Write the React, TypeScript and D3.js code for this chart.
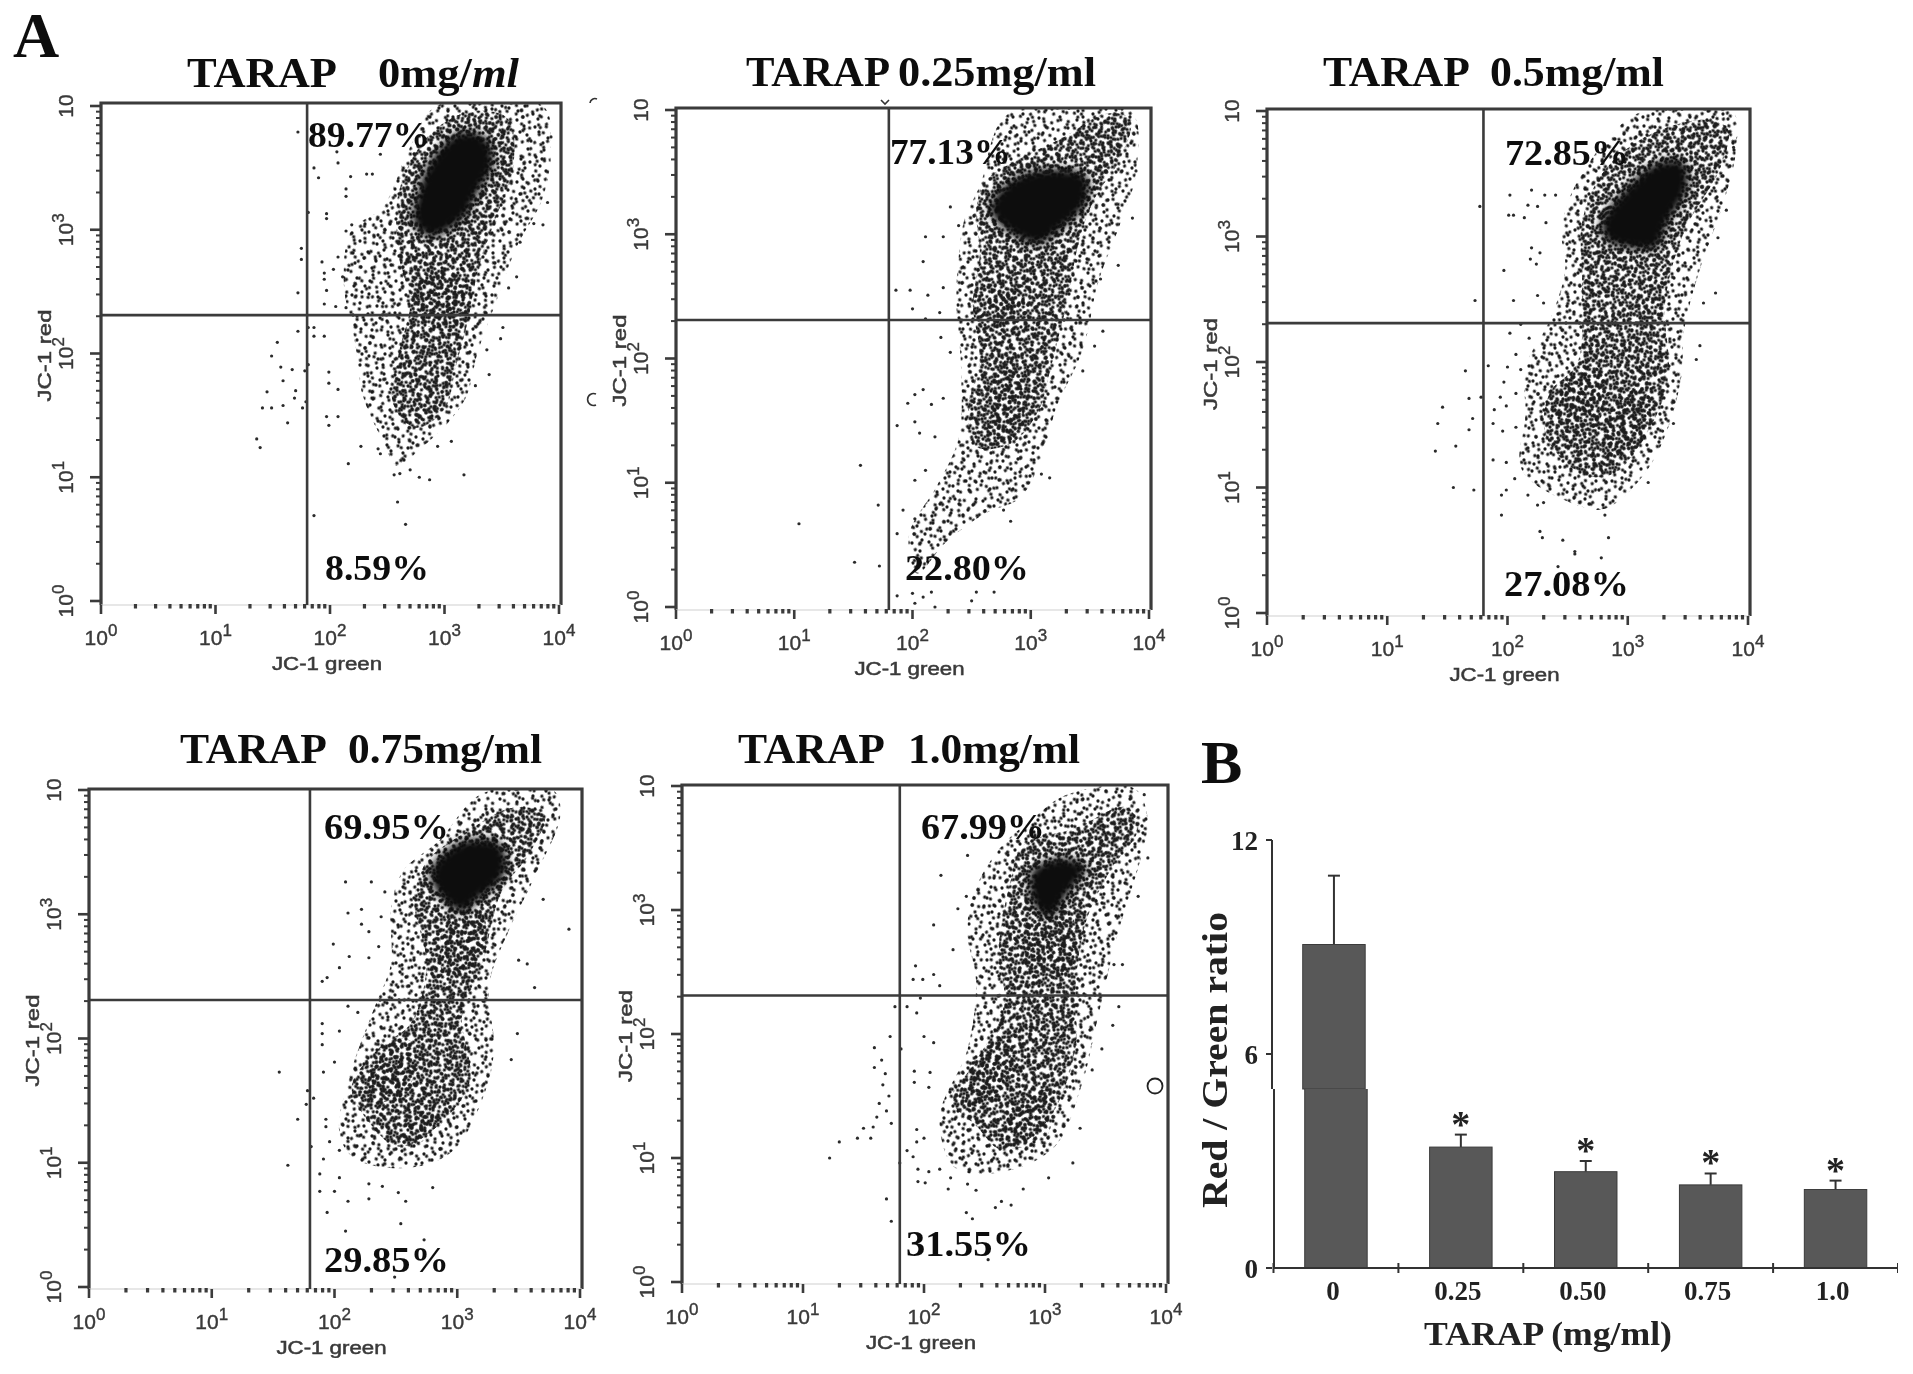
import React from "react";
import * as d3 from "d3";

// Values are log10 decades: [JC-1 green, JC-1 red].
// Sparse outliers are individual hand-read events. The dense clouds cannot be read event by event,
// so they are outlined as density regions (sparse / dense / knots / core) and filled with a texture.
type P = [number, number];

const gate: P = [1.8, 2.31];
const decades = [0, 1, 2, 3, 4];

const p1Sparse: P[] = [[2.46,3.18],[2.69,3.65],[2.93,4.0],[3.86,4.0],[3.93,3.68],[3.86,3.26],[3.63,2.86],[3.46,2.44],[3.29,2.01],[3.19,1.65],[3.03,1.44],[2.79,1.23],[2.59,1.09],[2.46,1.30],[2.29,1.65],[2.22,2.08],[2.12,2.58],[2.19,3.0]];
const p1Dense: P[] = [[2.6,3.3],[2.85,3.75],[3.2,3.95],[3.55,3.9],[3.6,3.5],[3.45,3.1],[3.3,2.7],[3.2,2.25],[3.1,1.9],[3.0,1.55],[2.75,1.4],[2.55,1.6],[2.6,2.0],[2.7,2.4],[2.6,2.8]];
const p1Knots: P[][] = [[[2.75,2.6],[3.1,2.65],[3.2,2.3],[2.95,2.2],[2.75,2.3]]];
const p1Core: P[] = [[2.76,3.29],[2.89,3.58],[3.13,3.79],[3.36,3.75],[3.43,3.54],[3.29,3.29],[3.19,3.11],[2.89,2.94],[2.73,3.04]];
const p1Dots: P[] = [[1.72,3.79],[1.86,3.5],[1.9,3.42],[2.06,3.63],[2.07,3.54],[2.18,3.43],[2.14,3.33],[2.14,3.27],[2.32,3.45],[2.37,3.45],[2.44,3.61],[1.97,3.13],[1.97,3.09],[1.81,3.14],[1.75,2.85],[1.75,2.76],[1.72,2.49],[1.93,2.74],[1.95,2.65],[1.95,2.6],[1.97,2.51],[1.95,2.4],[2.05,2.38],[2.07,2.78],[2.03,2.68],[2.14,2.99],[2.19,3.04],[2.11,2.62],[2.14,2.37],[1.72,2.18],[1.81,2.21],[1.86,2.21],[1.86,2.14],[1.95,2.14],[1.54,2.09],[1.49,1.98],[1.57,1.89],[1.67,1.87],[1.59,1.78],[1.78,1.86],[1.81,1.91],[1.45,1.69],[1.7,1.7],[1.69,1.64],[1.41,1.56],[1.49,1.56],[1.59,1.58],[1.76,1.56],[1.79,1.61],[1.63,1.44],[1.36,1.31],[1.39,1.24],[1.99,1.85],[1.99,1.76],[2.07,1.71],[1.97,1.49],[2.07,1.49],[1.99,1.42],[2.16,1.11],[2.59,0.8],[2.66,0.62],[1.86,0.69],[3.17,1.02],[2.87,0.98],[3.06,1.29],[2.56,1.02],[2.78,1.0],[2.7,1.06],[2.61,1.03],[2.44,1.19],[2.42,1.23],[2.27,1.25],[2.94,1.25],[3.39,1.83],[3.27,1.74],[3.51,2.21],[3.49,2.12],[3.37,2.03],[3.56,2.53],[3.63,2.62],[3.66,2.9],[3.86,3.04],[3.78,3.05],[3.9,3.22],[3.93,3.75]];

const p2Sparse: P[] = [[2.44,3.12],[2.57,3.39],[2.81,3.97],[3.84,4],[3.89,3.49],[3.77,3.12],[3.57,2.61],[3.44,2.07],[3.21,1.59],[3.11,1.25],[2.91,0.88],[2.61,0.75],[2.27,0.51],[2.04,0.27],[1.97,0.58],[2.21,0.98],[2.39,1.36],[2.41,1.93],[2.37,2.47],[2.39,2.81]];
const p2Dense: P[] = [[2.54,3.19],[2.61,3.42],[2.87,3.59],[3.24,3.76],[3.64,3.97],[3.84,3.93],[3.77,3.63],[3.54,3.29],[3.41,2.95],[3.31,2.47],[3.17,1.93],[3.07,1.59],[2.84,1.32],[2.54,1.29],[2.47,1.59],[2.57,2.0],[2.51,2.44],[2.57,2.85]];
const p2Knots: P[][] = [[[2.65,1.6],[2.8,2.0],[2.95,1.7],[2.85,1.35],[2.65,1.35]],[[2.65,2.5],[2.9,2.55],[2.95,2.3],[2.7,2.25]]];
const p2Core: P[] = [[2.66,3.25],[2.87,3.46],[3.21,3.53],[3.47,3.47],[3.47,3.25],[3.27,3.05],[3.07,2.92],[2.87,2.98],[2.67,3.15]];
const p2Dots: P[] = [[1.86,2.55],[1.98,2.55],[2.13,2.51],[2.26,2.57],[2,2.4],[2.11,2.32],[2.23,2.37],[2.09,2.78],[2.26,2.98],[2.11,2.98],[2.32,3.22],[2.39,3.07],[2.24,2.17],[2.32,2.05],[2.02,1.71],[2.09,1.75],[1.96,1.64],[1.87,1.46],[2.02,1.49],[2.06,1.4],[2.16,1.63],[2.19,1.37],[2.26,1.68],[1.56,1.14],[1.71,.82],[1.04,.67],[1.51,.36],[1.72,.33],[1.92,.78],[2.02,.71],[1.87,.59],[1.87,.09],[2,.11],[2.09,.08],[2.16,.12],[2.02,.03],[2.19,0],[2.5,.05],[2.54,.12],[2.69,.12],[2.11,1.1],[2.02,1.02],[3.16,1.04],[3.09,1.07],[2.83,.69],[2.77,.78],[3.61,2.22],[3.54,2.1],[3.44,1.9],[3.59,2.64],[3.74,2.75],[3.86,3.13],[3.89,3.51]];

const p3Sparse: P[] = [[2.45,3.04],[2.55,3.38],[2.91,3.86],[3.14,4],[3.87,4],[3.9,3.69],[3.8,3.28],[3.6,2.74],[3.47,2.26],[3.44,1.85],[3.31,1.41],[3.14,1.11],[2.81,.83],[2.55,.87],[2.12,1.14],[2.15,1.58],[2.15,1.96],[2.35,2.33],[2.48,2.74]];
const p3Dense: P[] = [[2.62,3.11],[2.78,3.49],[3.14,3.79],[3.64,3.93],[3.83,3.86],[3.77,3.55],[3.47,3.04],[3.31,2.47],[3.34,1.92],[3.24,1.58],[2.88,1.11],[2.62,1.11],[2.32,1.41],[2.35,1.75],[2.58,1.99],[2.62,2.6]];
const p3Knots: P[][] = [[[2.5,1.9],[2.75,1.95],[2.75,1.5],[2.45,1.45]],[[2.9,1.7],[3.15,1.8],[3.15,1.4],[2.85,1.25]]];
const p3Core: P[] = [[2.78,3.11],[2.98,3.38],[3.24,3.59],[3.47,3.59],[3.5,3.38],[3.34,3.11],[3.24,2.91],[2.98,2.91],[2.81,2.98]];
const p3Dots: P[] = [[2.02,3.33],[2.01,3.17],[2.05,3.17],[2.14,3.15],[2.17,3.25],[2.2,3.37],[2.25,3.24],[2.31,3.33],[2.4,3.33],[2.32,3.11],[2.2,2.91],[2.27,2.87],[2.19,2.82],[1.97,2.73],[2.24,2.78],[2.05,2.49],[1.73,2.49],[2.25,2.53],[2.3,2.47],[1.77,3.24],[2.02,2.23],[2.11,2.3],[2.18,2.19],[2.07,2.06],[2,1.96],[2.11,1.94],[1.84,1.97],[1.97,1.84],[1.94,1.72],[2.07,1.75],[1.89,1.62],[1.99,1.65],[1.88,1.51],[2.07,1.48],[1.96,1.45],[1.65,1.93],[1.68,1.71],[1.71,1.55],[1.68,1.46],[1.46,1.64],[1.42,1.51],[1.57,1.33],[1.4,1.29],[1.55,1],[1.72,.98],[1.78,1.72],[1.88,1.22],[1.99,1.2],[2.06,1.07],[1.95,.94],[1.99,.98],[1.95,.78],[2.17,.94],[2.25,.86],[2.3,.88],[2.27,.65],[2.29,.6],[2.46,.58],[2.56,.49],[2.56,.47],[2.78,.44],[2.84,.6],[2.42,.37],[2.81,.78],[3.57,2.02],[3.6,2.13],[3.73,2.55],[3.63,2.47],[3.38,1.51],[3.29,1.45],[3.17,1.04],[3.75,2.99],[3.82,3.21],[3.88,3.71]];

const p4Sparse: P[] = [[2.46,3.04],[2.56,3.35],[2.85,3.59],[3.2,3.97],[3.78,4],[3.84,3.8],[3.62,3.28],[3.42,2.87],[3.26,2.43],[3.3,1.92],[3.23,1.58],[2.97,1.1],[2.62,.96],[2.17,1.03],[2.04,1.24],[2.14,1.75],[2.33,2.26],[2.46,2.6]];
const p4Dense: P[] = [[2.65,3.11],[2.75,3.42],[3.07,3.66],[3.46,3.86],[3.71,3.8],[3.59,3.49],[3.36,3.18],[3.2,2.6],[3.04,2.19],[3.1,1.65],[2.81,1.27],[2.52,1.13],[2.27,1.34],[2.14,1.61],[2.36,1.92],[2.62,2.12],[2.75,2.6]];
const p4Knots: P[][] = [[[2.3,1.8],[2.55,2.0],[2.7,1.9],[2.55,1.55],[2.3,1.5]],[[2.6,1.4],[2.8,1.5],[2.75,1.2],[2.6,1.15]],[[2.9,2.9],[3.2,3.0],[3.2,2.65],[2.9,2.5]]];
const p4Core: P[] = [[2.78,3.35],[3.04,3.59],[3.36,3.56],[3.39,3.32],[3.17,3.11],[3.04,3.01],[2.85,3.15]];
const p4Dots: P[] = [[2.09,3.26],[2.3,3.26],[2.22,3.04],[2.11,3.01],[2.22,2.92],[2.28,2.86],[2.38,2.98],[2.41,3.18],[1.99,2.76],[2.12,2.66],[2.04,2.57],[1.9,2.46],[1.94,2.49],[2.28,2.65],[2.36,2.74],[3.91,2.88],[3.7,3.12],[3.57,2.6],[3.5,2.63],[3.63,2.41],[3.49,2.04],[3.44,1.83],[1.9,2.12],[1.9,2.04],[1.9,1.95],[2.04,2.06],[2.11,2.26],[2.19,2.21],[2,1.81],[1.91,1.73],[1.55,1.73],[1.7,1.35],[1.62,.98],[1.77,1.47],[1.83,1.52],[1.78,1.58],[1.81,1.13],[1.93,1.35],[1.93,1.29],[1.96,1.17],[1.91,1.03],[2.04,1.1],[1.88,.91],[2.04,.88],[1.88,.77],[2,.77],[2.11,.69],[1.94,.6],[2.09,.45],[2.28,.83],[2.28,.71],[2.39,.81],[2.52,.76],[2.58,.69],[2.54,.51],[2.73,.38],[2.49,.08],[2.8,.8]];

const p5Sparse: P[] = [[2.4,3.11],[2.62,3.49],[2.89,3.73],[3.18,3.93],[3.74,3.98],[3.85,3.73],[3.8,3.45],[3.6,2.8],[3.44,2.15],[3.31,1.61],[3.08,1.09],[2.66,.89],[2.26,.92],[2.13,1.33],[2.36,1.88],[2.43,2.43],[2.36,2.8]];
const p5Dense: P[] = [[2.72,3.25],[2.82,3.52],[3.25,3.66],[3.67,3.83],[3.77,3.66],[3.54,3.32],[3.34,2.91],[3.25,2.36],[3.25,1.88],[3.02,1.3],[2.66,1.06],[2.43,1.26],[2.23,1.47],[2.43,1.78],[2.66,2.22],[2.62,2.7]];
const p5Knots: P[][] = [[[2.35,1.7],[2.7,1.95],[2.7,1.6],[2.4,1.4]],[[2.7,1.35],[3.05,1.55],[3.0,1.15],[2.7,1.1]],[[2.85,2.95],[3.2,3.0],[3.2,2.5],[2.9,2.5]]];
const p5Core: P[] = [[2.89,3.32],[3.11,3.42],[3.34,3.35],[3.18,3.11],[3.05,2.94],[2.92,3.01],[2.87,3.18]];
const p5Dots: P[] = [[2.14,3.28],[2.08,2.88],[2.36,3.44],[2.35,3.11],[2.28,3.01],[2.24,2.68],[1.93,2.55],[1.91,2.44],[1.99,2.44],[2.08,2.48],[2.13,2.39],[1.97,2.29],[1.76,2.22],[1.86,2.22],[1.94,2.17],[2,1.98],[2.08,1.93],[1.72,1.98],[1.59,1.89],[1.65,1.79],[1.59,1.73],[1.68,1.68],[1.81,1.88],[1.66,1.59],[1.71,1.5],[1.63,1.44],[1.69,1.38],[1.61,1.33],[1.73,1.28],[1.5,1.24],[1.58,1.25],[1.3,1.13],[1.45,1.16],[1.56,1.16],[1.22,1],[1.92,1.7],[2.05,1.69],[1.92,1.61],[2.04,1.57],[1.94,1.23],[2,1.16],[1.94,1.13],[1.86,1.06],[1.91,1.01],[1.8,.96],[1.95,.91],[2.04,.89],[2.13,.91],[1.95,.81],[2.01,.8],[2.22,.84],[2.2,.75],[2.36,.79],[2.43,.74],[2.35,.56],[2.4,.51],[2.59,.6],[2.64,.65],[2.72,.62],[2.82,.75],[3.03,.84],[3.23,.96],[3.29,1.24],[1.69,.67],[1.73,.49],[2.53,.18],[3.56,2.07],[3.61,2.22],[3.39,1.71],[3.47,1.88],[3.64,2.56],[3.57,2.56],[3.77,3.11],[3.85,3.42],[3.82,3.93]];

// Panel B
const doses = ["0", "0.25", "0.50", "0.75", "1.0"];
const ratios = [9.07, 3.39, 2.7, 2.33, 2.2];
const ratioTops = [11.0, 3.74, 3.0, 2.65, 2.45];
const ratioTicks = [0, 6, 12];
const significant = [false, true, true, true, true];

// Hand-placed texture tile for the dense part of the clouds.
const speck: P[] = [[3,5],[11,19],[18,4],[26,13],[34,2],[41,17],[49,8],[58,14],[66,3],[7,30],[15,38],[23,27],[31,35],[38,25],[46,33],[54,26],[62,37],[68,22],[2,47],[10,55],[19,46],[27,58],[35,44],[43,52],[50,42],[59,56],[66,48],[5,15],[14,10],[22,20],[30,8],[37,11],[45,3],[53,19],[63,9],[12,44],[20,33],[28,49],[40,38],[48,57],[56,47],[64,30],[4,38],[33,55],[52,35]];
const speckLayers = ["rotate(0)", "rotate(17) translate(11 7)", "rotate(-23) translate(29 13)", "rotate(41) translate(5 31)", "rotate(-58) translate(17 41)", "rotate(73) translate(37 23)", "rotate(-37) translate(47 3)", "rotate(29) translate(23 53)", "rotate(-79) translate(61 19)", "rotate(53) translate(13 47)"];

const layout = [
  { title: ["TARAP", "0mg/", "ml"], titleX: [187, 378], titleW: [150, 141], titleY: 87, x0: 101, x1: 559, y0: 601, y4: 106, top: 103, bot: 605, pctTop: ["89.77%", 308, 147, 122], pctBot: ["8.59%", 325, 580, 104], sparse: p1Sparse, dense: p1Dense, knots: p1Knots, core: p1Core, dots: p1Dots },
  { title: ["TARAP", "0.25mg/ml"], titleX: [746, 898], titleW: [144, 198], titleY: 86, x0: 676, x1: 1149, y0: 607, y4: 110, top: 108, bot: 610, pctTop: ["77.13%", 890, 164, 121], pctBot: ["22.80%", 905, 580, 124], sparse: p2Sparse, dense: p2Dense, knots: p2Knots, core: p2Core, dots: p2Dots },
  { title: ["TARAP", "0.5mg/ml"], titleX: [1323, 1490], titleW: [147, 174], titleY: 86, x0: 1267, x1: 1748, y0: 613, y4: 111, top: 109, bot: 616, pctTop: ["72.85%", 1505, 165, 124], pctBot: ["27.08%", 1504, 596, 125], sparse: p3Sparse, dense: p3Dense, knots: p3Knots, core: p3Core, dots: p3Dots },
  { title: ["TARAP", "0.75mg/ml"], titleX: [180, 348], titleW: [147, 194], titleY: 763, x0: 89, x1: 580, y0: 1287, y4: 790, top: 789, bot: 1289, pctTop: ["69.95%", 324, 839, 125], pctBot: ["29.85%", 324, 1272, 125], sparse: p4Sparse, dense: p4Dense, knots: p4Knots, core: p4Core, dots: p4Dots },
  { title: ["TARAP", "1.0mg/ml"], titleX: [738, 908], titleW: [147, 172], titleY: 763, x0: 682, x1: 1166, y0: 1282, y4: 786, top: 785, bot: 1284, pctTop: ["67.99%", 921, 839, 124], pctBot: ["31.55%", 906, 1256, 125], sparse: p5Sparse, dense: p5Dense, knots: p5Knots, core: p5Core, dots: p5Dots },
];

const SERIF = "'Liberation Serif', serif";
const SANS = "'Liberation Sans', sans-serif";
const INK = "#3a3a3a";

function Flow({ p, i }: { p: any; i: number }) {
  const x = d3.scaleLinear().domain([0, 4]).range([p.x0, p.x1]);
  const y = d3.scaleLinear().domain([0, 4]).range([p.y0, p.y4]);
  const blob = d3.line<P>().x(d => x(d[0])).y(d => y(d[1])).curve(d3.curveCatmullRomClosed.alpha(0.5));
  const minors = decades.slice(0, -1).flatMap(d => d3.range(2, 10).map(k => d + Math.log10(k)));
  const right = p.x1 + 2;
  const clip = `clip-${i}`;
  return (
    <g>
      <clipPath id={clip}><rect x={p.x0} y={p.top} width={right - p.x0} height={p.bot - p.top} /></clipPath>
      <g clipPath={`url(#${clip})`}>
        {[0, 1, 6].map(l => <path key={l} d={blob(p.sparse)!} fill={`url(#speck-${l})`} />)}
        {[2, 3, 4, 7, 8, 9].map(l => <path key={l} d={blob(p.dense)!} fill={`url(#speck-${l})`} />)}
        {p.knots.map((k: P[], n: number) => [5, 1, 2, 6].map(l => <path key={`${n}-${l}`} d={blob(k)!} fill={`url(#speck-${l})`} />))}
        <path d={blob(p.core)!} fill="#101010" filter="url(#coreEdge)" />
        {p.dots.map((d: P, n: number) => <circle key={n} cx={x(d[0])} cy={y(d[1])} r={1.6} fill="#2a2a2a" />)}
      </g>
      {/* frame */}
      <path d={`M${p.x0},${p.bot}V${p.top}H${right}V${p.bot}`} fill="none" stroke={INK} strokeWidth={3.2} />
      <line x1={p.x0} x2={right} y1={p.bot} y2={p.bot} stroke="#cfcfcf" strokeWidth={1.2} />
      {/* quadrant gate */}
      <line x1={x(gate[0])} x2={x(gate[0])} y1={p.top} y2={p.bot} stroke={INK} strokeWidth={2.6} />
      <line x1={p.x0} x2={right} y1={y(gate[1])} y2={y(gate[1])} stroke={INK} strokeWidth={2.6} />
      {/* y ticks */}
      {minors.map((m, n) => <line key={n} x1={p.x0 - 5} x2={p.x0} y1={y(m)} y2={y(m)} stroke={INK} strokeWidth={2} />)}
      {decades.map(d => <line key={d} x1={p.x0 - 11} x2={p.x0} y1={y(d)} y2={y(d)} stroke={INK} strokeWidth={2.6} />)}
      {decades.map(d => (
        <text key={d} transform={`translate(${p.x0 - 28},${y(d)}) rotate(-90)`} textAnchor="middle" fontFamily={SANS} fontSize={21} fill={INK} stroke={INK} strokeWidth={0.4}>
          10{d < 4 ? <tspan dy={-9} fontSize={17}>{d}</tspan> : null}
        </text>
      ))}
      <text transform={`translate(${p.x0 - 50},${y(2) + 2}) rotate(-90)`} textAnchor="middle" fontFamily={SANS} fontSize={18} fill={INK} stroke={INK} strokeWidth={0.5} textLength={92} lengthAdjust="spacingAndGlyphs">JC-1 red</text>
      {/* x ticks */}
      {minors.map((m, n) => <rect key={n} x={x(m) - 1.6} y={p.bot - 1} width={3.2} height={4.5} fill={INK} />)}
      {decades.map(d => <line key={d} x1={x(d)} x2={x(d)} y1={p.bot} y2={p.bot + 9} stroke={INK} strokeWidth={2.6} />)}
      {decades.map(d => (
        <text key={d} x={x(d)} y={p.bot + 40} textAnchor="middle" fontFamily={SANS} fontSize={21} fill={INK} stroke={INK} strokeWidth={0.4}>
          10<tspan dy={-9} fontSize={17}>{d}</tspan>
        </text>
      ))}
      <text x={(p.x0 + p.x1) / 2 - 3} y={p.bot + 65} textAnchor="middle" fontFamily={SANS} fontSize={18} fill={INK} stroke={INK} strokeWidth={0.5} textLength={110} lengthAdjust="spacingAndGlyphs">JC-1 green</text>
      {/* percentages */}
      {[p.pctTop, p.pctBot].map((t: any, n: number) => (
        <text key={n} x={t[1]} y={t[2]} fontFamily={SERIF} fontWeight="bold" fontSize={35} fill="#111" textLength={t[3]} lengthAdjust="spacingAndGlyphs">{t[0]}</text>
      ))}
      {/* title */}
      <text x={p.titleX[0]} y={p.titleY} fontFamily={SERIF} fontWeight="bold" fontSize={42} fill="#111" textLength={p.titleW[0]} lengthAdjust="spacingAndGlyphs">{p.title[0]}</text>
      <text x={p.titleX[1]} y={p.titleY} fontFamily={SERIF} fontWeight="bold" fontSize={42} fill="#111" textLength={p.titleW[1]} lengthAdjust="spacingAndGlyphs">
        {p.title[1]}{p.title[2] ? <tspan fontStyle="italic">{p.title[2]}</tspan> : null}
      </text>
    </g>
  );
}

function Bars() {
  const x = d3.scaleBand<string>().domain(doses).range([1273.5, 1898]).paddingInner(0.5).paddingOuter(0.25);
  const y = d3.scaleLinear().domain([0, 12]).range([1268, 840]);
  const splice = 1089;
  const edges = [...doses.map(d => x(d)! - x.bandwidth() / 2), 1898];
  return (
    <g>
      {doses.map((d, i) => {
        const bx = x(d)!, bw = x.bandwidth(), cx = bx + bw / 2;
        const shift = y(ratios[i]) < splice ? -2 : 0;
        return (
          <g key={d}>
            <line x1={cx + shift} x2={cx + shift} y1={y(ratios[i])} y2={y(ratioTops[i])} stroke="#333" strokeWidth={2} />
            <line x1={cx + shift - 6} x2={cx + shift + 6} y1={y(ratioTops[i])} y2={y(ratioTops[i])} stroke="#333" strokeWidth={2} />
            {shift ? (
              <>
                <rect x={bx + shift} y={y(ratios[i])} width={bw} height={splice - y(ratios[i])} fill="#595959" stroke="#3a3a3a" />
                <rect x={bx} y={splice} width={bw} height={y(0) - splice} fill="#595959" stroke="none" />
                <path d={`M${bx},${splice}V${y(0)}H${bx + bw}V${splice}`} fill="none" stroke="#3a3a3a" />
              </>
            ) : (
              <rect x={bx} y={y(ratios[i])} width={bw} height={y(0) - y(ratios[i])} fill="#595959" stroke="#3a3a3a" />
            )}
            {significant[i] ? <text x={cx} y={y(ratioTops[i]) + 2} textAnchor="middle" fontFamily={SERIF} fontWeight="bold" fontSize={38} fill="#222">*</text> : null}
            <text x={cx - 3} y={1300} textAnchor="middle" fontFamily={SERIF} fontWeight="bold" fontSize={27} fill="#222">{d}</text>
          </g>
        );
      })}
      <path d={`M1272,${y(12)}V${splice}M1274,${splice}V${y(0)}`} fill="none" stroke="#333" strokeWidth={2} />
      <line x1={1273} x2={1898} y1={y(0)} y2={y(0)} stroke="#333" strokeWidth={2} />
      {edges.map((e, i) => <line key={i} x1={e} x2={e} y1={y(0) - 5} y2={y(0) + 5} stroke="#333" strokeWidth={2} />)}
      {ratioTicks.map(t => (
        <g key={t}>
          <line x1={1266} x2={1272} y1={y(t)} y2={y(t)} stroke="#333" strokeWidth={2} />
          <text x={1258} y={y(t) + 10} textAnchor="end" fontFamily={SERIF} fontWeight="bold" fontSize={27} fill="#222">{t}</text>
        </g>
      ))}
      <text transform="translate(1227,1060) rotate(-90)" textAnchor="middle" fontFamily={SERIF} fontWeight="bold" fontSize={36} fill="#222" textLength={296} lengthAdjust="spacingAndGlyphs">Red / Green ratio</text>
      <text x={1548} y={1345} textAnchor="middle" fontFamily={SERIF} fontWeight="bold" fontSize={34} fill="#222" textLength={248} lengthAdjust="spacingAndGlyphs">TARAP (mg/ml)</text>
    </g>
  );
}

export default function App() {
  return (
    <svg width={1913} height={1374} viewBox="0 0 1913 1374" style={{ position: "absolute", left: 0, top: 0, background: "#fff", display: "block" }}>
      <defs>
        <filter id="soft" x="0" y="0" width="100%" height="100%"><feGaussianBlur stdDeviation="0.7" /></filter>
        <filter id="coreEdge" x="-20%" y="-20%" width="140%" height="140%"><feGaussianBlur stdDeviation="4" /></filter>
        {speckLayers.map((t, i) => (
          <pattern key={i} id={`speck-${i}`} width={70} height={62} patternUnits="userSpaceOnUse" patternTransform={t}>
            {speck.map((s, n) => <circle key={n} cx={s[0]} cy={s[1]} r={1.65} fill="#1c1c1c" />)}
          </pattern>
        ))}
      </defs>
      <g filter="url(#soft)">
        {layout.map((p, i) => <Flow key={i} p={p} i={i} />)}
        <Bars />
        <text x={13} y={57} fontFamily={SERIF} fontWeight="bold" fontSize={64} fill="#111">A</text>
        <text x={1201} y={783} fontFamily={SERIF} fontWeight="bold" fontSize={62} fill="#111">B</text>
        {/* stray scan marks next to the panels */}
        <path d="M596,394 A6,6 0 1 0 596,405" fill="none" stroke="#333" strokeWidth={1.6} />
        <path d="M597,99 A5,5 0 0 0 590,103" fill="none" stroke="#333" strokeWidth={1.6} />
        <path d="M881,100 L885,104 L889,100" fill="none" stroke="#333" strokeWidth={1.6} />
        <circle cx={1155} cy={1086} r={7.5} fill="none" stroke="#222" strokeWidth={1.8} />
      </g>
    </svg>
  );
}
